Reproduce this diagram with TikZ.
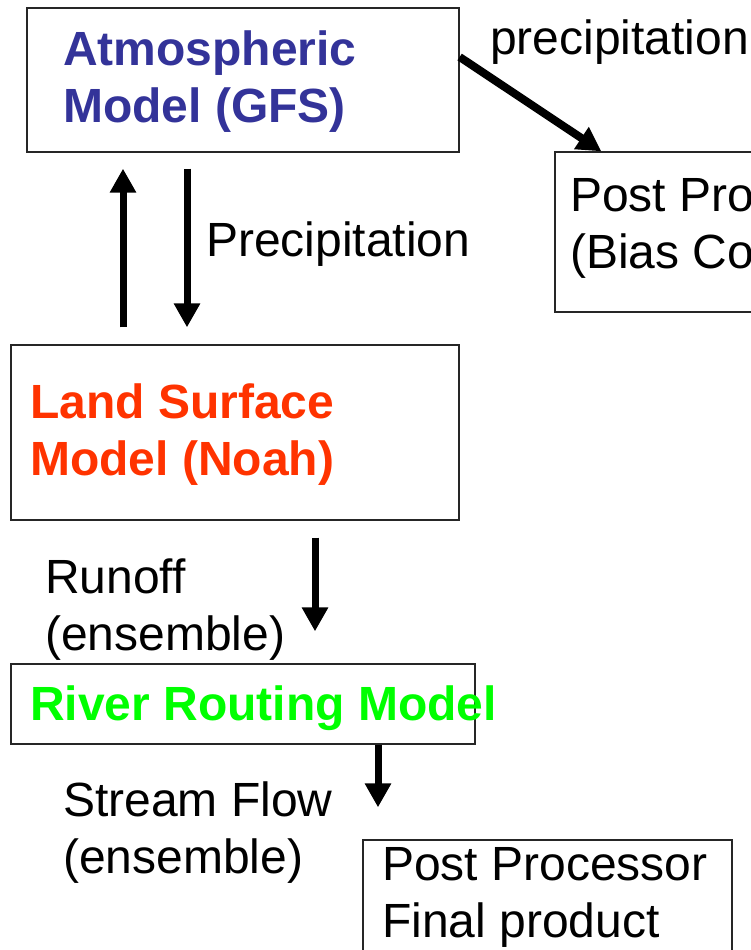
\documentclass[tikz,border=0pt]{standalone}
\usepackage{fontspec}
\setmainfont{Liberation Sans}
\usetikzlibrary{arrows.meta, positioning}

\definecolor{atmblue}{HTML}{333399}
\definecolor{landred}{HTML}{FF3300}
\definecolor{rivergreen}{HTML}{00FF00}

\begin{document}
\begin{tikzpicture}[x=1pt, y=-1pt,
  box/.style={draw=black!85, line width=1.3pt, inner sep=0pt},
  flow/.style={line width=7pt, -{Triangle[width=25pt, length=24pt]}},
  txt/.style={font=\fontsize{48}{57}\selectfont, align=left, anchor=base west, inner sep=0pt},
  model/.style={txt, font=\fontsize{48}{57}\selectfont\bfseries}]

  \useasboundingbox (0,0) rectangle (751,950);
  \clip (0,0) rectangle (751,950);

  % Boxes
  \node[box, minimum width=432pt, minimum height=144pt] (atm) at (243,80) {};
  \node[box, minimum width=244pt, minimum height=160pt] (bias) at (677,232) {};
  \node[box, minimum width=448pt, minimum height=175pt] (land) at (235,432.5) {};
  \node[box, minimum width=464pt, minimum height=80pt] (river) at (243,704) {};
  \node[box, minimum width=369pt, minimum height=140pt] (final) at (547.5,910) {};

  % Box texts (placed at the baseline of the last line)
  \node[model, text=atmblue] (atmtxt) at (63,122) {Atmospheric\\Model (GFS)};
  \node[model, text=landred] (landtxt) at (30,475) {Land Surface\\Model (Noah)};
  \node[model, text=rivergreen] (rivertxt) at (30,720) {River Routing Model};
  \node[txt] (biastxt) at (570,268) {Post Pro\\(Bias Co};
  \node[txt] (finaltxt) at (382,937) {Post Processor\\Final product};

  % Arrow columns
  \coordinate (upx) at (123,0);
  \coordinate (downx) at (187,0);
  \coordinate (runx) at (315,0);
  \coordinate (streamx) at (378,0);

  % Arrows
  \draw[flow, line width=8pt] ([yshift=23pt]atm.east) -- ([xshift=47pt]bias.north west);
  \draw[flow, shorten <=17pt, shorten >=16pt] (land.north -| upx) -- (atm.south -| upx);
  \draw[flow, shorten <=16pt, shorten >=17pt] (atm.south -| downx) -- (land.north -| downx);
  \draw[flow, shorten <=17pt, shorten >=32pt] (land.south -| runx) -- (river.north -| runx);
  \draw[flow, shorten >=32pt] (river.south -| streamx) -- (final.north -| streamx);

  % Arrow labels
  \node[txt] (precipout) at (490,55) {precipitation};
  \node[txt] (precipin) at (206,256) {Precipitation};
  \node[txt] (runoff) at (45,650) {Runoff\\(ensemble)};
  \node[txt] (stream) at (63,873) {Stream Flow\\(ensemble)};

\end{tikzpicture}
\end{document}
